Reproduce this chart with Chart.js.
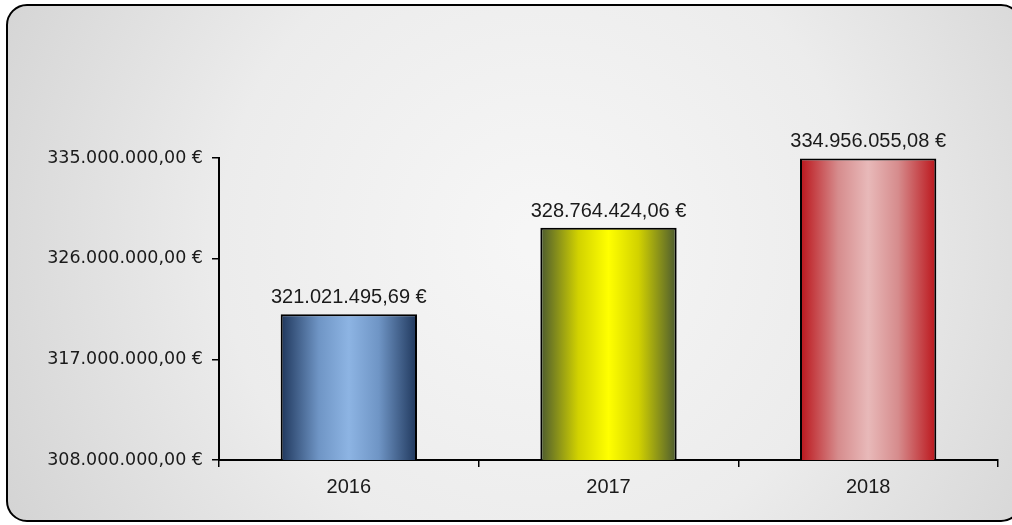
<!DOCTYPE html>
<html>
<head>
<meta charset="utf-8">
<script src="https://cdn.jsdelivr.net/npm/chart.js@4"></script>
<style>
  html, body { margin: 0; padding: 0; background: #ffffff; }
  #wrap { width: 1012px; height: 525px; position: relative; }
</style>
</head>
<body>
<div id="wrap"><canvas id="totals"></canvas></div>
<script>
const years = ["2016", "2017", "2018"];
const amounts = [321021495.69, 328764424.06, 334956055.08];
const yMin = 308000000;
const yMax = 335000000;
const yStep = 9000000;

// horizontal shading per bar: edge, mid, centre
const shades = [
  ["#1f375c", "#6f95c5", "#8db4e3"],
  ["#4b5a30", "#d2d200", "#ffff00"],
  ["#bb151b", "#d68c8d", "#e8b9b9"],
];

function euro(v) {
  const parts = v.toFixed(2).split(".");
  const whole = parts[0].replace(/\B(?=(\d{3})+(?!\d))/g, ".");
  return whole + "," + parts[1] + " €";
}

const frame = {
  id: "frame",
  beforeDraw(chart) {
    const c = chart.ctx;
    const x = 7, y = 5, w = 1014, h = 516, r = 20;
    c.save();
    const g = c.createRadialGradient(540, 240, 20, 540, 240, 620);
    g.addColorStop(0, "#f6f6f6");
    g.addColorStop(0.5, "#ececec");
    g.addColorStop(1, "#d2d2d2");
    c.beginPath();
    c.roundRect(x, y, w, h, r);
    c.fillStyle = g;
    c.fill();
    c.lineWidth = 2;
    c.strokeStyle = "#000000";
    c.stroke();
    c.restore();
  },
};

const valueLabels = {
  id: "valueLabels",
  afterDatasetsDraw(chart) {
    const c = chart.ctx;
    const meta = chart.getDatasetMeta(0);
    c.save();
    c.font = "20px 'Liberation Sans', Arial, sans-serif";
    c.fillStyle = "#1a1a1a";
    c.textAlign = "center";
    c.textBaseline = "alphabetic";
    meta.data.forEach((bar, i) => {
      c.fillText(euro(amounts[i]), bar.x, bar.y - 11);
    });
    c.restore();
  },
};

function barFill(ctx) {
  const chart = ctx.chart;
  const s = shades[ctx.dataIndex];
  if (!chart.chartArea || !chart.scales.x) return s[2];
  const xs = chart.scales.x;
  const cx = xs.getPixelForValue(ctx.dataIndex);
  const half = (xs.width / years.length) * 0.525 / 2;
  const g = chart.ctx.createLinearGradient(cx - half, 0, cx + half, 0);
  g.addColorStop(0, s[0]);
  g.addColorStop(0.28, s[1]);
  g.addColorStop(0.5, s[2]);
  g.addColorStop(0.72, s[1]);
  g.addColorStop(1, s[0]);
  return g;
}

new Chart(document.getElementById("totals"), {
  type: "bar",
  data: {
    labels: years,
    datasets: [{
      data: amounts,
      backgroundColor: barFill,
      borderColor: "#000000",
      borderWidth: 2,
      borderSkipped: false,
      categoryPercentage: 1,
      barPercentage: 0.525,
    }],
  },
  options: {
    responsive: true,
    maintainAspectRatio: false,
    animation: false,
    layout: { padding: { left: 0, top: 158, right: 14, bottom: 25 } },
    plugins: {
      legend: { display: false },
      tooltip: { enabled: false },
    },
    scales: {
      x: {
        offset: true,
        afterFit(scale) { scale.height = 40; },
        grid: {
          offset: true,
          drawOnChartArea: false,
          drawTicks: true,
          tickLength: 7,
          color: "#000000",
          lineWidth: 1.5,
        },
        border: { display: true, color: "#000000", width: 2 },
        ticks: {
          color: "#1a1a1a",
          padding: 8,
          font: { family: "'Liberation Sans', Arial, sans-serif", size: 20 },
        },
      },
      y: {
        min: yMin,
        max: yMax,
        afterFit(scale) { scale.width = 219; },
        grid: {
          drawOnChartArea: false,
          drawTicks: true,
          tickLength: 7,
          color: "#000000",
          lineWidth: 1.5,
        },
        border: { display: true, color: "#000000", width: 2 },
        ticks: {
          stepSize: yStep,
          color: "#1a1a1a",
          padding: 9,
          font: { family: "'DejaVu Sans', Tahoma, sans-serif", size: 17.5 },
          callback: (v) => euro(v),
        },
      },
    },
  },
  plugins: [frame, valueLabels],
});
</script>
</body>
</html>
